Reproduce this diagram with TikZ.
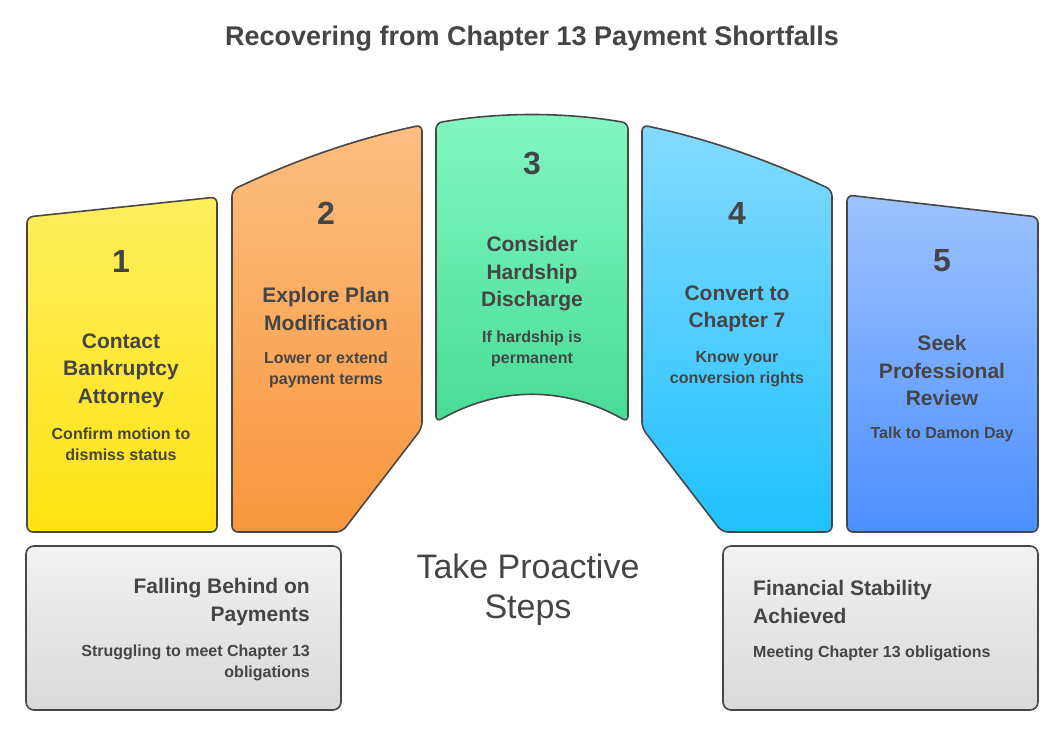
\documentclass[tikz,border=0pt]{standalone}
\usepackage{fontspec}
\setmainfont{Liberation Sans}
\definecolor{edge}{HTML}{474747}
\definecolor{ink}{HTML}{454545}
\definecolor{yT}{HTML}{FDEE5C}
\definecolor{yB}{HTML}{FFE314}
\definecolor{oT}{HTML}{FDBE80}
\definecolor{oB}{HTML}{F7963D}
\definecolor{gT}{HTML}{82F7C2}
\definecolor{gB}{HTML}{48DC95}
\definecolor{cT}{HTML}{84DAFF}
\definecolor{cB}{HTML}{1FC1FF}
\definecolor{bT}{HTML}{9DC3FF}
\definecolor{bB}{HTML}{4B8FFF}
\definecolor{kT}{HTML}{F2F2F2}
\definecolor{kB}{HTML}{D9D9D9}
\begin{document}
\begin{tikzpicture}[x=1pt,y=-1pt,
  card/.style={draw=edge, line width=1.6pt, rounded corners=6pt},
  numtxt/.style={font=\fontsize{32}{36}\selectfont\bfseries, text=ink, inner sep=0pt},
  head/.style={font=\fontsize{21}{27.5}\selectfont\bfseries, text=ink, align=center, inner sep=0pt},
  subt/.style={font=\fontsize{16}{21}\selectfont\bfseries, text=ink, align=center, inner sep=0pt}]
\useasboundingbox (0,0) rectangle (1064,737);
% title
\node[font=\fontsize{27}{32}\selectfont\bfseries, text=ink] (title) at (532,39) {Recovering from Chapter 13 Payment Shortfalls};
% card 1
\path[card, top color=yT, bottom color=yB] (27,217) -- (217,197) -- (217,532) -- (27,532) -- cycle;
% card 2
\path[card, top color=oT, bottom color=oB] (232,190) .. controls (300,158) and (360,138) .. (422,125) -- (422,428) -- (342,532) -- (232,532) -- cycle;
% card 3
\path[card, top color=gT, bottom color=gB] (436,123) .. controls (500,112) and (564,112) .. (628,123) -- (628,422) .. controls (564,386) and (500,386) .. (436,422) -- cycle;
% card 4
\path[card, top color=cT, bottom color=cB] (642,125) .. controls (704,138) and (764,158) .. (832,190) -- (832,532) -- (722,532) -- (642,428) -- cycle;
% card 5
\path[card, top color=bT, bottom color=bB] (847,195) -- (1038,217) -- (1038,532) -- (847,532) -- cycle;
% bottom boxes
\path[draw=edge, line width=1.6pt, rounded corners=8pt, top color=kT, bottom color=kB] (26,546) rectangle (341,710);
\path[draw=edge, line width=1.6pt, rounded corners=8pt, top color=kT, bottom color=kB] (723,546) rectangle (1038,710);
% texts card 1
\node[numtxt] (n1) at (121,261) {1};
\node[head] (h1) at (121,370.5) {Contact\\Bankruptcy\\Attorney};
\node[subt] (s1) at (121,444.5) {Confirm motion to\\dismiss status};
% card 2
\node[numtxt] (n2) at (326,213) {2};
\node[head] (h2) at (326,309) {Explore Plan\\Modification};
\node[subt] (s2) at (326,369.5) {Lower or extend\\payment terms};
% card 3
\node[numtxt] (n3) at (532,164) {3};
\node[head] (h3) at (532,274) {Consider\\Hardship\\Discharge};
\node[subt] (s3) at (532,348.5) {If hardship is\\permanent};
% card 4
\node[numtxt] (n4) at (737,213) {4};
\node[head] (h4) at (737,309) {Convert to\\Chapter 7};
\node[subt] (s4) at (737,369.5) {Know your\\conversion rights};
% card 5
\node[numtxt] (n5) at (942,261) {5};
\node[head] (h5) at (942,370.5) {Seek\\Professional\\Review};
\node[subt] (s5) at (942,434) {Talk to Damon Day};
% bottom left
\node[head, align=right, anchor=east] (hl) at (310,602) {Falling Behind on\\Payments};
\node[subt, align=right, anchor=east] (sl) at (310,663) {Struggling to meet Chapter 13\\obligations};
% bottom right
\node[head, align=left, anchor=west] (hr) at (753,602) {Financial Stability\\Achieved};
\node[subt, align=left, anchor=west] (sr) at (753,653) {Meeting Chapter 13 obligations};
% center
\node[font=\fontsize{34}{40}\selectfont, text=ink, align=center, inner sep=0pt] (mid) at (528,590) {Take Proactive\\Steps};
\end{tikzpicture}
\end{document}
